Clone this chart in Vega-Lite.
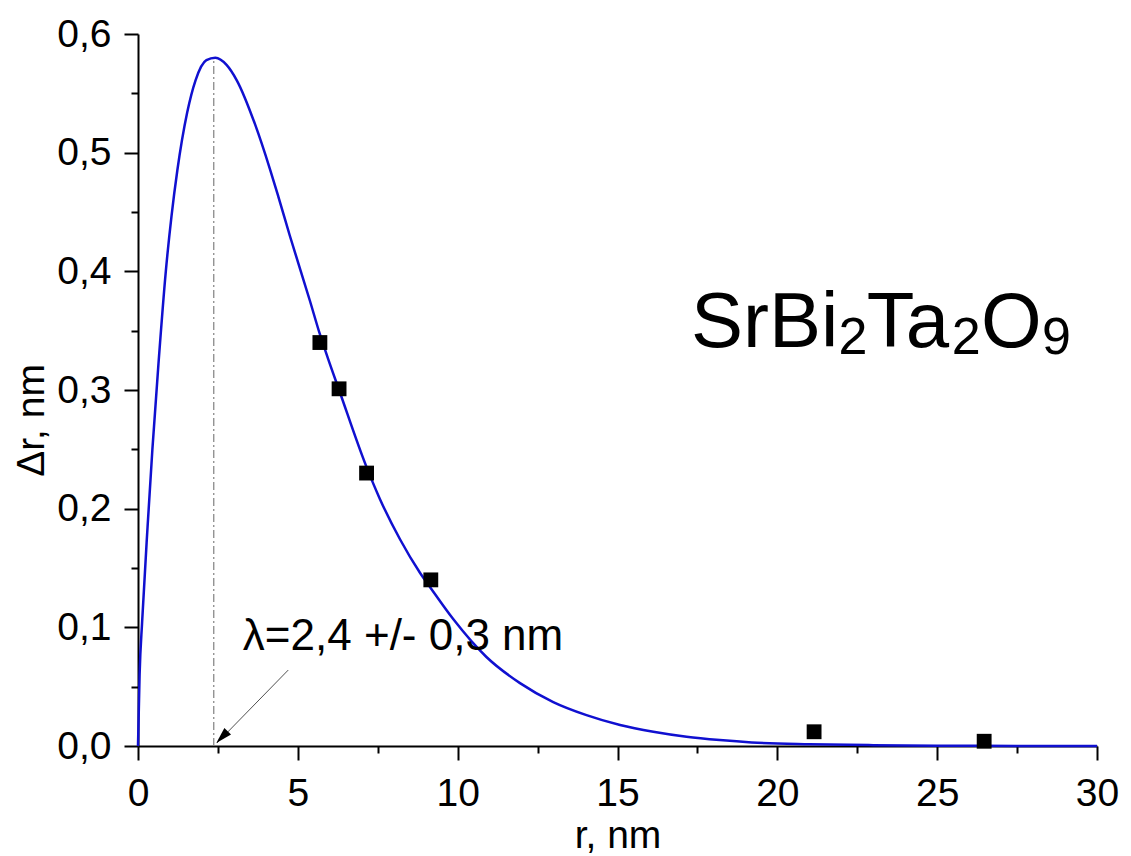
{
  "$schema": "https://vega.github.io/schema/vega-lite/v6.json",
  "autosize": {"type": "none"},
  "width": 959,
  "height": 712,
  "padding": {"left": 138, "top": 34, "right": 34, "bottom": 110},
  "background": "white",
  "config": {
    "font": "Liberation Sans",
    "view": {"stroke": null},
    "axis": {"grid": false, "domainColor": "black", "domainWidth": 2, "tickColor": "black", "tickWidth": 2, "labelColor": "black", "titleColor": "black", "labelFont": "Liberation Sans", "titleFont": "Liberation Sans", "titleFontWeight": "normal", "labelFlush": false, "labelOverlap": false}
  },
  "datasets": {
    "curve": [
      {"r": 0, "v": 0}, {"r": 0.05, "v": 0.06}, {"r": 0.13, "v": 0.105}, {"r": 0.3, "v": 0.185},
      {"r": 0.45, "v": 0.25}, {"r": 0.64, "v": 0.322}, {"r": 0.87, "v": 0.4}, {"r": 1.05, "v": 0.447},
      {"r": 1.23, "v": 0.485}, {"r": 1.54, "v": 0.534}, {"r": 1.8, "v": 0.561},
      {"r": 2.14, "v": 0.578}, {"r": 2.42, "v": 0.58}, {"r": 2.77, "v": 0.574}, {"r": 3.09, "v": 0.561},
      {"r": 3.66, "v": 0.524}, {"r": 4.13, "v": 0.486}, {"r": 4.39, "v": 0.463}, {"r": 4.75, "v": 0.43},
      {"r": 5.38, "v": 0.375}, {"r": 5.69, "v": 0.347}, {"r": 5.95, "v": 0.326}, {"r": 6.29, "v": 0.3},
      {"r": 7.15, "v": 0.235}, {"r": 7.57, "v": 0.208}, {"r": 8.2, "v": 0.174}, {"r": 8.82, "v": 0.146}, {"r": 9.16, "v": 0.133},
      {"r": 9.86, "v": 0.107}, {"r": 10.9, "v": 0.075}, {"r": 11.95, "v": 0.053}, {"r": 12.99, "v": 0.037},
      {"r": 14.03, "v": 0.026}, {"r": 15.08, "v": 0.0177}, {"r": 16.12, "v": 0.012}, {"r": 17.16, "v": 0.0078},
      {"r": 18.2, "v": 0.005}, {"r": 19.2, "v": 0.003}, {"r": 21.0, "v": 0.0015}, {"r": 23.0, "v": 0.0007},
      {"r": 25.0, "v": 0.0003}, {"r": 27.5, "v": 0.0001}, {"r": 30, "v": 0.00005}
    ],
    "points": [
      {"r": 5.69, "v": 0.34}, {"r": 6.29, "v": 0.301}, {"r": 7.15, "v": 0.23},
      {"r": 9.16, "v": 0.14}, {"r": 21.15, "v": 0.012}, {"r": 26.47, "v": 0.004}
    ]
  },
  "layer": [
    {
      "data": {"name": "curve"},
      "mark": {"type": "line", "color": "#1010d0", "strokeWidth": 2.5, "interpolate": "monotone"},
      "encoding": {
        "x": {"field": "r", "type": "quantitative", "scale": {"domain": [0, 30], "nice": false},
          "axis": {"values": [0, 5, 10, 15, 20, 25, 30], "tickSize": 14, "labelFontSize": 39, "labelPadding": 14, "title": "r, nm", "titleFontSize": 39, "titleY": 101, "titleBaseline": "alphabetic"}},
        "y": {"field": "v", "type": "quantitative", "scale": {"domain": [0, 0.6], "nice": false},
          "axis": {"values": [0, 0.1, 0.2, 0.3, 0.4, 0.5, 0.6], "tickSize": 14, "labelFontSize": 39, "labelPadding": 13,
            "labelExpr": "replace(format(datum.value, '.1f'), '.', ',')", "title": "Δr, nm", "titleFontSize": 39, "titleAngle": -90, "titleX": -107, "titleY": 386, "titleBaseline": "middle", "titleAlign": "center"}}
      }
    },
    {
      "data": {"name": "points"},
      "mark": {"type": "point", "shape": "square", "filled": true, "color": "black", "size": 220, "opacity": 1},
      "encoding": {
        "x": {"field": "r", "type": "quantitative",
          "axis": {"orient": "bottom", "values": [2.5, 7.5, 12.5, 17.5, 22.5, 27.5], "tickSize": 7, "labels": false, "domain": false, "title": null}},
        "y": {"field": "v", "type": "quantitative",
          "axis": {"orient": "left", "values": [0.05, 0.15, 0.25, 0.35, 0.45, 0.55], "tickSize": 7, "labels": false, "domain": false, "title": null}}
      }
    },
    {
      "data": {"values": [{}]},
      "mark": {"type": "rule", "color": "#808080", "strokeWidth": 1.2, "strokeDash": [8, 3, 2, 3]},
      "encoding": {
        "x": {"datum": 2.37, "type": "quantitative", "axis": null},
        "y": {"datum": 0, "type": "quantitative", "axis": null},
        "y2": {"datum": 0.578}
      }
    },
    {
      "data": {"values": [{}]},
      "mark": {"type": "rule", "color": "#505050", "strokeWidth": 1},
      "encoding": {
        "x": {"datum": 4.7, "type": "quantitative", "axis": null},
        "y": {"datum": 0.064, "type": "quantitative", "axis": null},
        "x2": {"datum": 2.47},
        "y2": {"datum": 0.0025}
      }
    },
    {
      "data": {"values": [{}]},
      "mark": {"type": "point", "shape": "M0,0L0.45,1.6L-0.45,1.6Z", "filled": true, "color": "black", "size": 420, "angle": 224, "opacity": 1},
      "encoding": {
        "x": {"datum": 2.45, "type": "quantitative", "axis": null},
        "y": {"datum": 0.0025, "type": "quantitative", "axis": null}
      }
    },
    {
      "data": {"values": [{}]},
      "mark": {"type": "text", "text": "λ=2,4 +/- 0,3 nm", "fontSize": 44, "align": "left", "baseline": "alphabetic", "color": "black"},
      "encoding": {
        "x": {"datum": 3.28, "type": "quantitative", "axis": null},
        "y": {"datum": 0.081, "type": "quantitative", "axis": null}
      }
    },
    {
      "data": {"values": [{}]},
      "mark": {"type": "text", "text": "SrBi", "fontSize": 78, "align": "left", "baseline": "alphabetic", "color": "black"},
      "encoding": {
        "x": {"datum": 17.3, "type": "quantitative", "axis": null},
        "y": {"datum": 0.3362, "type": "quantitative", "axis": null}
      }
    },
    {
      "data": {"values": [{}]},
      "mark": {"type": "text", "text": "2", "fontSize": 52, "align": "left", "baseline": "alphabetic", "color": "black"},
      "encoding": {
        "x": {"datum": 21.91, "type": "quantitative", "axis": null},
        "y": {"datum": 0.3303, "type": "quantitative", "axis": null}
      }
    },
    {
      "data": {"values": [{}]},
      "mark": {"type": "text", "text": "Ta", "fontSize": 78, "align": "left", "baseline": "alphabetic", "color": "black"},
      "encoding": {
        "x": {"datum": 22.8, "type": "quantitative", "axis": null},
        "y": {"datum": 0.3362, "type": "quantitative", "axis": null}
      }
    },
    {
      "data": {"values": [{}]},
      "mark": {"type": "text", "text": "2", "fontSize": 52, "align": "left", "baseline": "alphabetic", "color": "black"},
      "encoding": {
        "x": {"datum": 25.46, "type": "quantitative", "axis": null},
        "y": {"datum": 0.3303, "type": "quantitative", "axis": null}
      }
    },
    {
      "data": {"values": [{}]},
      "mark": {"type": "text", "text": "O", "fontSize": 78, "align": "left", "baseline": "alphabetic", "color": "black"},
      "encoding": {
        "x": {"datum": 26.37, "type": "quantitative", "axis": null},
        "y": {"datum": 0.3362, "type": "quantitative", "axis": null}
      }
    },
    {
      "data": {"values": [{}]},
      "mark": {"type": "text", "text": "9", "fontSize": 52, "align": "left", "baseline": "alphabetic", "color": "black"},
      "encoding": {
        "x": {"datum": 28.28, "type": "quantitative", "axis": null},
        "y": {"datum": 0.3303, "type": "quantitative", "axis": null}
      }
    }
  ],
  "resolve": {"axis": {"x": "independent", "y": "independent"}}
}
